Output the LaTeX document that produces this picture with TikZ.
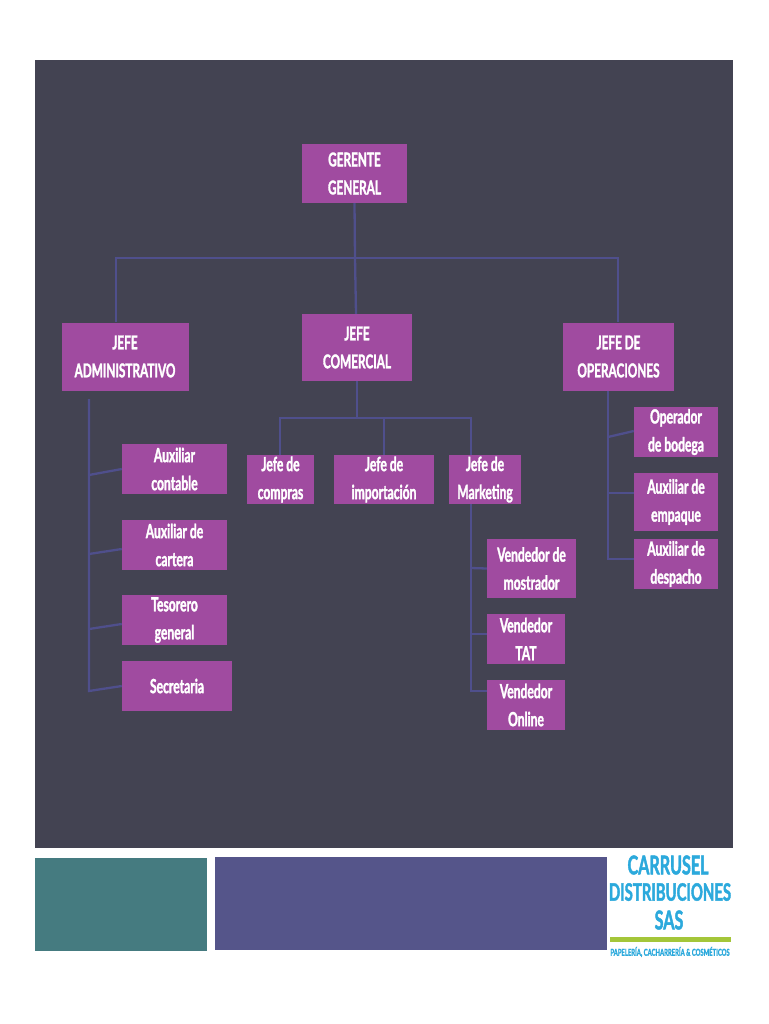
\documentclass[tikz,border=0pt]{standalone}
\usepackage{fontspec}
\setmainfont{Lato}[FakeStretch=0.62, BoldFeatures={FakeBold=1.6}]
\usepackage{tikz}
\definecolor{fondo}{HTML}{434352}
\definecolor{caja}{HTML}{A04BA0}
\definecolor{linea}{HTML}{4F4F8C}
\definecolor{verde}{HTML}{457B80}
\definecolor{indigo}{HTML}{55558A}
\definecolor{azul}{HTML}{2BA9DC}
\definecolor{lima}{HTML}{A4C639}
\tikzset{
    cargo/.style={fill=caja, text=white, align=center, inner sep=0pt, font=\bfseries\fontsize{19.5}{28}\selectfont},
    jefe/.style={cargo, font=\bfseries\fontsize{19}{28}\selectfont},
    rama/.style={draw=linea, line width=2.3pt},
    logo/.style={text=azul, inner sep=0pt, font=\bfseries\fontsize{26}{26}\selectfont}
}
\begin{document}
\begin{tikzpicture}[x=1pt, y=-1pt]
    \useasboundingbox (0,0) rectangle (768,1024);
    \fill[white] (0,0) rectangle (768,1024);
    \fill[fondo] (35,60) rectangle (733,848);
    \fill[verde] (35,858) rectangle (207,951);
    \fill[indigo] (215,857) rectangle (607,950);

    \coordinate (busizq) at (116,258);
    \coordinate (busder) at (618,258);
    \coordinate (buscen) at (355,258);
    \coordinate (buscom) at (357,418);
    \coordinate (busa) at (280,418);
    \coordinate (busb) at (384,418);
    \coordinate (busc) at (471,418);
    \coordinate (adm0) at (89,399);
    \coordinate (adm1) at (89,475);
    \coordinate (adm2) at (89,554);
    \coordinate (adm3) at (89,629);
    \coordinate (adm4) at (89,691);
    \coordinate (mar1) at (471,568);
    \coordinate (mar2) at (471,634);
    \coordinate (mar3) at (471,691);
    \coordinate (ope1) at (608,437);
    \coordinate (ope2) at (608,493);
    \coordinate (ope3) at (608,559);

    \node[jefe, minimum width=105pt, minimum height=59pt] (gerente) at (354.5,173.5) {GERENTE\\GENERAL};
    \node[jefe, minimum width=127pt, minimum height=68pt] (admin) at (125,356.5) {JEFE\\ADMINISTRATIVO};
    \node[jefe, minimum width=110pt, minimum height=67pt] (comercial) at (357,347.5) {JEFE\\COMERCIAL};
    \node[jefe, minimum width=111pt, minimum height=68pt] (operaciones) at (618.5,356.5) {JEFE DE\\OPERACIONES};

    \node[cargo, minimum width=105pt, minimum height=50pt] (contable) at (174.5,469) {Auxiliar\\contable};
    \node[cargo, minimum width=105pt, minimum height=50pt] (cartera) at (174.5,545) {Auxiliar de\\cartera};
    \node[cargo, minimum width=105pt, minimum height=50pt] (tesorero) at (174.5,620) {Tesorero\\general};
    \node[cargo, minimum width=110pt, minimum height=50pt] (secretaria) at (177,686) {Secretaria};

    \node[cargo, minimum width=67pt, minimum height=49pt] (compras) at (280.5,479.5) {Jefe de\\compras};
    \node[cargo, minimum width=100pt, minimum height=49pt] (importacion) at (384,479.5) {Jefe de\\importación};
    \node[cargo, minimum width=72pt, minimum height=49pt] (marketing) at (485,479.5) {Jefe de\\Marketing};

    \node[cargo, minimum width=89pt, minimum height=59pt] (mostrador) at (531.5,568.5) {Vendedor de\\mostrador};
    \node[cargo, minimum width=78pt, minimum height=50pt] (tat) at (526,639) {Vendedor\\TAT};
    \node[cargo, minimum width=78pt, minimum height=50pt] (online) at (526,705) {Vendedor\\Online};

    \node[cargo, minimum width=84pt, minimum height=50pt] (bodega) at (676,432) {Operador\\de bodega};
    \node[cargo, minimum width=84pt, minimum height=58pt] (empaque) at (676,502) {Auxiliar de\\empaque};
    \node[cargo, minimum width=84pt, minimum height=50pt] (despacho) at (676,564) {Auxiliar de\\despacho};

    \draw[rama] (gerente.south) -- (buscen) -- (comercial.north -| 356,0);
    \draw[rama] (admin.north -| busizq) -- (busizq) -- (busder) -- (operaciones.north -| busder);

    \draw[rama] (comercial.south) -- (buscom);
    \draw[rama] (compras.north -| busa) -- (busa) -- (busc) -- (marketing.north -| busc);
    \draw[rama] (busb) -- (importacion.north);

    \draw[rama] (adm0) -- (adm4) -- (secretaria.west);
    \draw[rama] (adm1) -- (contable.west);
    \draw[rama] (adm2) -- ([yshift=-4pt]cartera.west);
    \draw[rama] (adm3) -- ([yshift=-4pt]tesorero.west);

    \draw[rama] (marketing.south -| mar1) -- (mar3) -- (mar3 -| online.west);
    \draw[rama] (mar1) -- (mostrador.west);
    \draw[rama] (mar2) -- (mar2 -| tat.west);

    \draw[rama] (operaciones.south -| ope1) -- (ope3) -- (ope3 -| despacho.west);
    \draw[rama] (ope1) -- ([yshift=1pt]bodega.west);
    \draw[rama] (ope2) -- (ope2 -| empaque.west);

    \node[logo] (carrusel) at (668,865) {CARRUSEL};
    \node[logo, font=\bfseries\fontsize{24}{24}\selectfont] (distribuciones) at (670,892) {DISTRIBUCIONES};
    \node[logo] (sas) at (669,920) {SAS};
    \fill[lima] (610,937) rectangle (731,942);
    \node[text=azul, inner sep=0pt, font=\bfseries\fontsize{9.5}{9.5}\selectfont] (lema) at (670,952) {PAPELERÍA, CACHARRERÍA \& COSMÉTICOS};
\end{tikzpicture}
\end{document}
